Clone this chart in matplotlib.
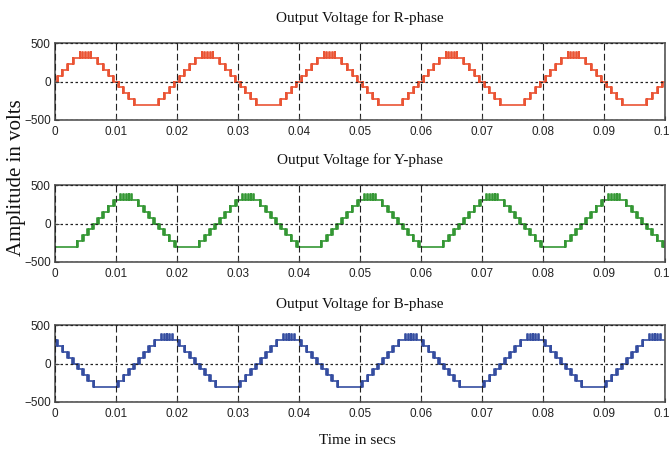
import numpy as np
import matplotlib
matplotlib.use('Agg')
import matplotlib.pyplot as plt
import matplotlib.transforms as mtransforms

# ---- data (one 20 ms period of the R phase) ----
period_ms = 20.0
step_levels = [0, 75, 150, 225, 300]          # staircase levels (V)
rise_times_ms = [0.3, 1.1, 1.95, 2.9]          # up-steps in the first quarter
notch_ms = 0.12                                # width of switching notches
peak_level = 380                               # height of pulses on the positive crest
peak_pulse_ms = [4.05, 4.5, 4.95, 5.4, 5.85]
phase_names = ['R', 'Y', 'B']
phase_delay_ms = [0.0, 6.667, 13.333]
phase_colors = ['#e8411e', '#1e8c1e', '#1f3a96']
x_ticks = [0, 0.01, 0.02, 0.03, 0.04, 0.05, 0.06, 0.07, 0.08, 0.09, 0.1]
x_tick_labels = ['0', '0.01', '0.02', '0.03', '0.04', '0.05', '0.06', '0.07', '0.08', '0.09', '0.1']
y_ticks = [-500, 0, 500]
t_end_ms = 100.0


def half_wave_events(with_peak):
    ev = [(0.0, 0)]
    half = period_ms / 2
    for k, tr in enumerate(rise_times_ms):
        lo, hi = step_levels[k], step_levels[k + 1]
        ev += [(tr, hi), (tr + notch_ms, lo), (tr + 2 * notch_ms, hi)]
        tf = half - tr
        ev += [(tf - 2 * notch_ms, lo), (tf - notch_ms, hi), (tf, lo)]
    if with_peak:
        for p in peak_pulse_ms:
            ev += [(p, peak_level), (p + notch_ms, step_levels[-1])]
    return ev


base = half_wave_events(True)
base += [(t + period_ms / 2, -v) for t, v in half_wave_events(False)]
base.sort()


def phase_wave(delay):
    ev = []
    for n in range(-1, 7):
        for t, v in base:
            ev.append((t + n * period_ms + delay, v))
    ev.sort()
    v0 = [v for t, v in ev if t <= 0][-1]
    ts, vs = [0.0], [0.0]
    ts.append(0.0); vs.append(v0)
    for t, v in ev:
        if 0 < t < t_end_ms:
            ts.append(t); vs.append(v)
    ts.append(t_end_ms); vs.append(vs[-1])
    return np.array(ts) / 1000.0, np.array(vs)


W, H = 672, 459
fig = plt.figure(figsize=(W / 100, H / 100), dpi=100)
axes_px = [(43, 120), (185, 262), (325, 402)]
title_y = [18, 160, 304]
left, right = 55, 665

for i, (name, d, col) in enumerate(zip(phase_names, phase_delay_ms, phase_colors)):
    top, bot = axes_px[i]
    ax = fig.add_axes([left / W, 1 - bot / H, (right - left) / W, (bot - top) / H])
    t, v = phase_wave(d)
    ax.plot(t, v, drawstyle='steps-post', color=col, lw=1.2, alpha=0.9)
    ax.set_xlim(0, 0.1)
    ax.set_ylim(-500, 500)
    ax.set_xticks(x_ticks)
    ax.set_xticklabels(x_tick_labels)
    ax.set_yticks(y_ticks)
    ax.xaxis.grid(True, linestyle=(0, (6, 3)), color='#222222', lw=0.8)
    ax.yaxis.grid(True, linestyle=(0, (2, 2)), color='#222222', lw=0.9)
    ax.set_axisbelow(False)
    for s in ax.spines.values():
        s.set_color('#555555')
        s.set_linewidth(1.2)
    ax.tick_params(direction='in', length=3, width=0.8, color='#444444',
                   labelsize=8.5, pad=4, top=False, right=False)
    ax.tick_params(axis='y', pad=3)
    for lab in ax.get_xticklabels() + ax.get_yticklabels():
        lab.set_family(['Liberation Sans Narrow', 'Liberation Sans', 'DejaVu Sans'])
        lab.set_color('#222222')
    last = ax.get_xticklabels()[-1]
    last.set_transform(last.get_transform() +
                       mtransforms.ScaledTranslation(-3 / 100, 0, fig.dpi_scale_trans))
    fig.text(360 / W, 1 - title_y[i] / H, f'Output Voltage for {name}-phase',
             ha='center', va='center', family='Liberation Serif', fontsize=11, color='#111111')

fig.text(17 / W, 1 - 178 / H, 'Amplitude in volts', rotation=90, ha='center', va='center',
         family='Liberation Serif', fontsize=15, color='#111111')
fig.text(357 / W, 1 - 440 / H, 'Time in secs', ha='center', va='center',
         family='Liberation Serif', fontsize=11, color='#111111')

fig.savefig('out.png', dpi=100)
